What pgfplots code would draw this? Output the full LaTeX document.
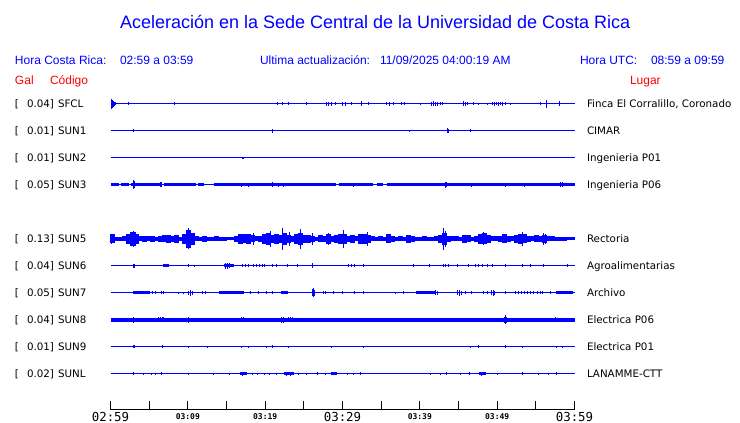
\documentclass[border=0pt]{standalone}
\usepackage{fontspec}
\setmainfont{Liberation Sans}
\newfontfamily\dv{DejaVu Sans}
\newfontfamily\dvm{DejaVu Sans Mono}
\usepackage{pgfplots}
\pgfplotsset{compat=1.18}
\definecolor{tb}{RGB}{0,0,255}
\definecolor{tr}{RGB}{255,0,0}
\pgfplotsset{
 spk/.style={draw=none, forget plot, error bars/.cd, y dir=both, y explicit, error mark=none, error bar style={draw=tb, solid, line width=1.1pt}},
 blk/.style={draw=none, forget plot, error bars/.cd, y dir=both, y explicit, error mark=none, error bar style={draw=tb, solid, line width=4.2pt}},
 base/.style={tb, line width=1.25pt, forget plot},
 band/.style={tb, line width=#1, forget plot, unbounded coords=jump},
}
\newcommand\lbig{\dvm\fontsize{12.4}{13}\selectfont}
\newcommand\lsmall{\dvm\bfseries\fontsize{8}{9}\selectfont}
\begin{document}
\begin{tikzpicture}
\useasboundingbox (0,0) rectangle (740pt,-423pt);
\begin{axis}[
  at={(110.5pt,-409.5pt)}, anchor=south west,
  scale only axis, width=464pt, height=319pt,
  xmin=110, xmax=574, ymin=14, ymax=333,
  axis x line*=bottom, axis y line=none, ytick=\empty,
  axis line style={black, line width=1pt},
  xtick={110,148.667,187.333,226,264.667,303.333,342,380.667,419.333,458,496.667,535.333,574},
  xticklabels={{\lbig 02:59},{},{\lsmall 03:09},{},{\lsmall 03:19},{},{\lbig 03:29},{},{\lsmall 03:39},{},{\lsmall 03:49},{},{\lbig 03:59}},
  tick align=inside, major tick length=9pt,
  xtick style={black, line width=1pt},
  xticklabel style={anchor=center, yshift=-7pt, inner sep=0pt},
  clip=false,
]
% ---------- SFCL ----------
\addplot[base] coordinates {(110,320) (574,320)};
\addplot[spk] table[x index=0, y index=1, y error index=2] {
111 320 5
112 320 4
113 320 3
114 320 2
115 320 1.5
128 320 1.5
174 320 1.5
277 320 1.5
282 320 1.5
288 320 1.5
306 320 1.5
326 320 2
328 320 2
331 320 2
335 320 1.5
342 320 2
345 320 2
351 320 1.5
361 320 2.5
368 320 1.5
386 320 1.5
389 320 2
393 320 1.5
401 320 1.5
404 320 1.5
420 320 1
431 320 2
433 320 2.5
435 320 2
437 320 2
440 320 1.5
442 320 1.5
463 320 2.5
465 320 2
467 320 1.5
473 320 1.5
478 320 1
487 320 1
492 320 1.5
494 320 2
496 320 1.5
498 320 2
500 320 1.5
502 320 2
505 320 1.5
510 320 1
540 320 1.5
546 320 4
559 320 2.5
};
% ---------- SUN1 ----------
\addplot[base] coordinates {(110,293) (574,293)};
\addplot[spk] table[x index=0, y index=1, y error index=2] {
133 293 1.5
272 293 2
409 293 1
447 293 2.5
448 293 2
470 293 1.5
};
% ---------- SUN2 ----------
\addplot[base] coordinates {(110,266) (574,266)};
\addplot[spk] table[x index=0, y index=1, y error index=2] {
242 266 1
243 266 1
};
% ---------- SUN3 ----------
\addplot[base] coordinates {(110,239) (574,239)};
\addplot[band=3pt] coordinates {(110,239) (118,239) (119,nan) (120,239) (128,239) (129,nan) (130,239) (160,239) (161,nan) (163,239) (195,239) (196,nan) (197,239) (203,239) (208,nan) (213,239) (335,239) (336,nan) (338,239) (372,239) (374,nan) (376,239) (382,239) (384,nan) (386,239) (574,239)};
\addplot[spk] table[x index=0, y index=1, y error index=2] {
133 239 4.5
134 239 3.5
160.5 239 2.5
241 239 2
248 239 2
272 239 2.5
278 239 2
283 239 2
353 239 2
363 239 1.5
445 239 3
446 239 2.5
471 239 2
505 239 2
524 239 2
560 239 2.5
562 239 2.5
};
% ---------- SUN5 ----------
\addplot[base] coordinates {(110,185) (574,185)};
\addplot[blk] table[x index=0, y index=1, y error index=2] {
112 185 4.5
116 185 2
120 185 2
124 185 2.5
128 185 5
132 185 7
136 185 5
140 185 2.5
144 185 3
148 185 2.5
152 185 3
156 185 2
160 185 3
164 185 3.5
168 185 4
172 185 3
176 185 4
180 185 2
184 185 5
188 185 9
192 185 6
196 185 2.5
200 185 2
204 185 3
208 185 2
212 185 2
216 185 2.5
220 185 2
224 185 2
228 185 1.5
232 185 1.5
236 185 3
240 185 5
244 185 4.5
248 185 5
252 185 3.5
256 185 2.5
260 185 3
264 185 5
268 185 6
272 185 4
276 185 5
280 185 4
284 185 6
288 185 4
292 185 3
296 185 5
300 185 6
304 185 4
308 185 4
312 185 3
316 185 2
320 185 3.5
324 185 3
328 185 5
332 185 3
336 185 4
340 185 5
344 185 5
348 185 3
352 185 4
356 185 2.5
360 185 5
364 185 5
368 185 4
372 185 2.5
376 185 2
380 185 2.5
384 185 2
388 185 4.5
392 185 3
396 185 2
400 185 2.5
404 185 2
408 185 4
412 185 3
416 185 2
420 185 2
424 185 2.5
428 185 2
432 185 2
436 185 2.5
440 185 4
444 185 6
448 185 3
452 185 2.5
456 185 2.5
460 185 2
464 185 4
468 185 3.5
472 185 2
476 185 3
480 185 5
484 185 5.5
488 185 4
492 185 2.5
496 185 2.5
500 185 3
504 185 4.5
508 185 3
512 185 2.5
516 185 4
520 185 5
524 185 4.5
528 185 3
532 185 2.5
536 185 3.5
540 185 3
544 185 4
548 185 2.5
552 185 2.5
556 185 2
560 185 2
564 185 2
568 185 1.5
572 185 1.5
};
\addplot[spk] table[x index=0, y index=1, y error index=2] {
111 185 5
133 185 8
135 185 7
188 185 10.5
190 185 8
253 185 6
270 185 8
282 185 11
289 185 7
300 185 10
312 185 6
328 185 6
343 185 9
367 185 7
443 185 11
445 185 8
483 185 6.5
522 185 7
543 185 6
545 185 5
};
% ---------- SUN6 ----------
\addplot[base] coordinates {(110,158) (574,158)};
\addplot[band=3pt] coordinates {(162,158) (168,158) (170,nan) (223,158) (233,158)};
\addplot[spk] table[x index=0, y index=1, y error index=2] {
133 158 2
134 158 2
188 158 1.5
194 158 1
225 158 3
227 158 3
229 158 2.5
242 158 1.5
245 158 1.5
248 158 1.5
253 158 1.5
256 158 1.5
259 158 1.5
262 158 1.5
264 158 1.5
272 158 1.5
276 158 1.5
287 158 1.5
297 158 1.5
312 158 2.5
348 158 1.5
351 158 1.5
354 158 1.5
363 158 1.5
413 158 1.5
429 158 1.5
443 158 1.5
445 158 1.5
448 158 1.5
457 158 1.5
468 158 1.5
475 158 1.5
478 158 1.5
482 158 1.5
487 158 1.5
492 158 1.5
505 158 1.5
522 158 1.5
530 158 1.5
543 158 1.5
567 158 1.5
};
% ---------- SUN7 ----------
\addplot[base] coordinates {(110,131) (574,131)};
\addplot[band=3pt] coordinates {(132,131) (148,131) (150,nan) (218,131) (243,131) (245,nan) (280,131) (287,131) (290,nan) (415,131) (435,131) (440,nan) (555,131) (572,131)};
\addplot[spk] table[x index=0, y index=1, y error index=2] {
149 131 1.5
152 131 1.5
155 131 1.5
161 131 1.5
163 131 1.5
178 131 1
183 131 1
188 131 2
190 131 3
192 131 2
202 131 1.5
205 131 1.5
250 131 1.5
258 131 1.5
266 131 1.5
272 131 1.5
312 131 3.5
313 131 4.5
314 131 3
323 131 1.5
325 131 1.5
333 131 1.5
342 131 1.5
354 131 1.5
363 131 1.5
395 131 1
403 131 1.5
435 131 2.5
437 131 2
457 131 2.5
459 131 3
461 131 2
465 131 1.5
471 131 1.5
483 131 1.5
487 131 1.5
491 131 2.5
493 131 3
494 131 2
505 131 1.5
515 131 1.5
518 131 1.5
521 131 1.5
524 131 1.5
527 131 1.5
530 131 1.5
533 131 1.5
537 131 1.5
540 131 1.5
542 131 1.5
550 131 1.5
};
% ---------- SUN8 ----------
\addplot[band=4pt] coordinates {(110,104) (574,104)};
\addplot[spk] table[x index=0, y index=1, y error index=2] {
133 104 3
151 104 2
158 104 2.5
160 104 2.5
162 104 2.5
163 104 2.5
188 104 3
195 104 1.5
222 104 1.5
230 104 1.5
241 104 2.5
243 104 2.5
248 104 2
258 104 2
266 104 2
272 104 2
275 104 2
281 104 3
283 104 3
288 104 2.5
290 104 2.5
292 104 2.5
327 104 2
344 104 2
353 104 2
358 104 2
363 104 2
404 104 2
406 104 2
409 104 2
435 104 2
443 104 2
445 104 2
478 104 2
485 104 2
492 104 2
504 104 3
505 104 4.5
506 104 3
520 104 2
522 104 2
524 104 2
526 104 2
528 104 2
531 104 2
534 104 2
537 104 2
544 104 2
555 104 2.5
562 104 2
569 104 2
};
% ---------- SUN9 ----------
\addplot[base] coordinates {(110,77) (574,77)};
\addplot[spk] table[x index=0, y index=1, y error index=2] {
133 77 1.5
134 77 1.5
162 77 1.5
188 77 1
207 77 1
241 77 1
248 77 1
266 77 1
272 77 1.5
288 77 1
331 77 1
363 77 1
470 77 1
478 77 1.5
505 77 1.5
522 77 1
556 77 1
562 77 1
};
% ---------- SUNL ----------
\addplot[base] coordinates {(110,50) (574,50)};
\addplot[band=3pt] coordinates {(239,50) (246,50) (250,nan) (283,50) (293,50) (296,nan) (330,50) (336,50) (340,nan) (478,50) (485,50)};
\addplot[spk] table[x index=0, y index=1, y error index=2] {
133 50 1.5
143 50 1
151 50 1
155 50 1
161 50 1.5
188 50 1
213 50 1
229 50 1
242 50 2
252 50 1
257 50 1
264 50 1
269 50 1
276 50 1
286 50 2
290 50 2
298 50 1
306 50 1
317 50 1.5
325 50 1
333 50 1.5
347 50 1
353 50 1
360 50 1.5
430 50 1
440 50 1
446 50 1.5
460 50 1
469 50 1.5
481 50 2
497 50 1
522 50 1.5
538 50 1
548 50 1
556 50 1.5
};
\end{axis}
% ---------- texts ----------
\begin{scope}[every node/.style={inner sep=0pt, outer sep=0pt}]
\node[anchor=base west, text=tb, font=\fontsize{18}{20}\selectfont] at (120pt,-28.5pt) {Aceleración en la Sede Central de la Universidad de Costa Rica};
\begin{scope}[every node/.append style={anchor=base west, font=\fontsize{12}{14}\selectfont}]
\node[text=tb] at (15pt,-64.3pt) {Hora Costa Rica:};
\node[text=tb] at (120pt,-64.3pt) {02:59 a 03:59};
\node[text=tb] at (260pt,-64.3pt) {Ultima actualización:};
\node[text=tb] at (380pt,-64.3pt) {11/09/2025 04:00:19 AM};
\node[text=tb] at (580pt,-64.3pt) {Hora UTC:};
\node[text=tb] at (651pt,-64.3pt) {08:59 a 09:59};
\node[text=tr] at (15pt,-84.3pt) {Gal};
\node[text=tr] at (50pt,-84.3pt) {Código};
\node[text=tr] at (630pt,-84.3pt) {Lugar};
\end{scope}
\newcommand\lab[4]{%
 \node[anchor=base west] at (15pt,-#1pt) {[};
 \node[anchor=base east] at (54pt,-#1pt) {#2]};
 \node[anchor=base west] at (58pt,-#1pt) {#3};
 \node[anchor=base west] at (587pt,-#1pt) {#4};}
\begin{scope}[every node/.append style={font=\dv\fontsize{10.3}{12}\selectfont}]
\lab{107}{0.04}{SFCL}{Finca El Corralillo, Coronado}
\lab{134}{0.01}{SUN1}{CIMAR}
\lab{161}{0.01}{SUN2}{Ingenieria P01}
\lab{188}{0.05}{SUN3}{Ingenieria P06}
\lab{242}{0.13}{SUN5}{Rectoria}
\lab{269}{0.04}{SUN6}{Agroalimentarias}
\lab{296}{0.05}{SUN7}{Archivo}
\lab{323}{0.04}{SUN8}{Electrica P06}
\lab{350}{0.01}{SUN9}{Electrica P01}
\lab{377}{0.02}{SUNL}{LANAMME-CTT}
\end{scope}
\end{scope}
\end{tikzpicture}
\end{document}
